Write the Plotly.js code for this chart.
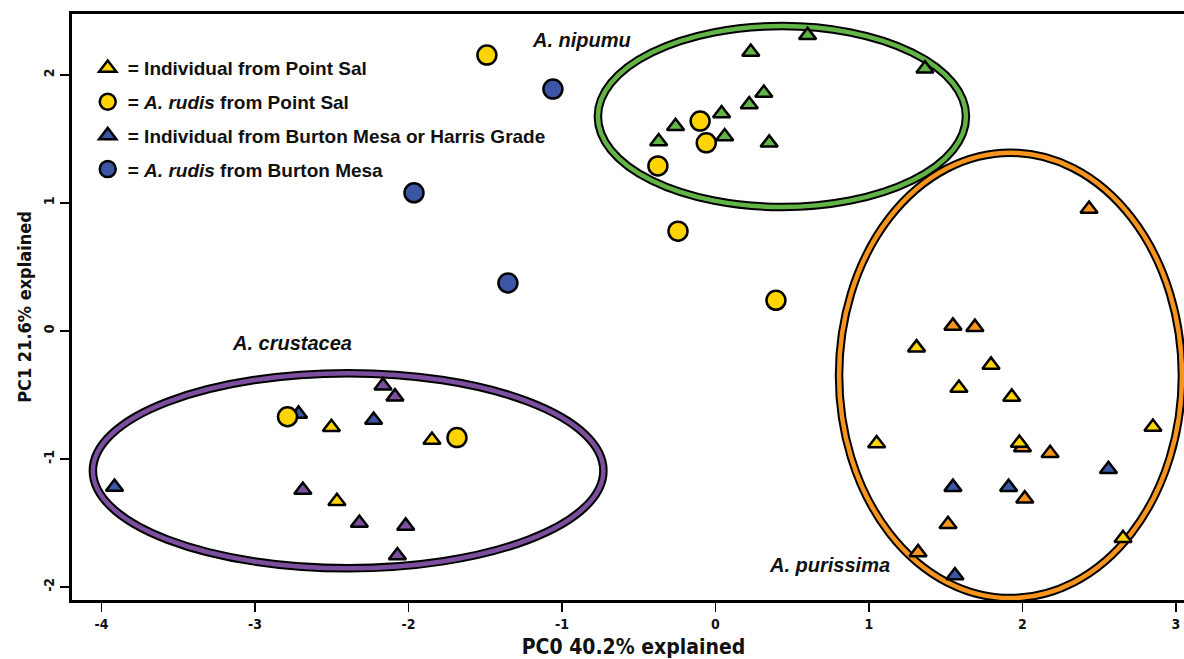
<!DOCTYPE html>
<html>
<head>
<meta charset="utf-8">
<script src="https://cdn.plot.ly/plotly-3.0.1.min.js"></script>
<style>
html,body{margin:0;padding:0;overflow:hidden;background:#fff;}
#chart{width:1220px;height:659px;}
</style>
</head>
<body>
<div id="chart"></div>
<script>
// ---- data (PC0, PC1) ----
const yellowTriX = [-2.502, -1.847, -2.466, 1.31, 1.795, 1.586, 1.93, 2.85, 1.05, 1.98, 2.655];
const yellowTriY = [-0.752, -0.852, -1.33, -0.13, -0.265, -0.445, -0.515, -0.75, -0.88, -0.875, -1.62];

const yellowCircX = [-1.489, -0.10, -0.06, -0.375, -0.244, 0.394, -2.788, -1.684];
const yellowCircY = [2.156, 1.64, 1.47, 1.29, 0.78, 0.24, -0.67, -0.833];

const blueTriX = [-2.716, -2.227, -3.915, 2.56, 1.547, 1.91, 1.56];
const blueTriY = [-0.648, -0.695, -1.219, -1.08, -1.22, -1.22, -1.91];

const blueCircX = [-1.059, -1.964, -1.352];
const blueCircY = [1.89, 1.08, 0.375];

const greenTriX = [0.60, 0.23, 1.365, 0.315, 0.22, 0.04, -0.26, 0.06, -0.37, 0.35];
const greenTriY = [2.31, 2.18, 2.05, 1.86, 1.77, 1.70, 1.60, 1.52, 1.48, 1.47];

const orangeTriX = [2.434, 1.547, 1.69, 2.00, 2.18, 2.015, 1.515, 1.32];
const orangeTriY = [0.953, 0.04, 0.03, -0.91, -0.955, -1.31, -1.51, -1.73];

const purpleTriX = [-2.166, -2.088, -2.688, -2.32, -2.018, -2.072];
const purpleTriY = [-0.427, -0.513, -1.242, -1.50, -1.523, -1.755];

// ellipses: species, centre x, centre y, half-width, half-height
const ellipseNames = ["A. nipumu", "A. purissima", "A. crustacea"];
const ellipseCx = [0.433, 1.922, -2.393];
const ellipseCy = [1.676, -0.347, -1.092];
const ellipseRx = [1.199, 1.117, 1.663];
const ellipseRy = [0.707, 1.74, 0.762];
const ellipseColors = ["#62B446", "#F7941D", "#7B4E9E"];

// species label positions (data coords)
const labelX = [-0.87, 0.74, -2.76];
const labelY = [2.27, -1.83, -0.094];

const xTicks = [-4, -3, -2, -1, 0, 1, 2, 3];
const yTicks = [-2, -1, 0, 1, 2];

// ---- styling ----
const YELLOW = "#FFD400", BLUE = "#3A56A5";
const TRI = 15, CIRC = 19, LW = 2.5;

function tri(x, y, color, name, show, rank) {
  return {x: x, y: y, type: "scatter", mode: "markers", name: name, showlegend: show,
    legendrank: rank, legendgroup: "g" + rank,
    marker: {symbol: "triangle-up", size: TRI, color: color, line: {color: "#000", width: LW}},
    hoverinfo: "x+y"};
}
function circ(x, y, color, name, show, rank) {
  return {x: x, y: y, type: "scatter", mode: "markers", name: name, showlegend: show,
    legendrank: rank, legendgroup: "g" + rank,
    marker: {symbol: "circle", size: CIRC, color: color, line: {color: "#000", width: LW}},
    hoverinfo: "x+y"};
}

const traces = [
  tri(greenTriX, greenTriY, "#62B446", "A. nipumu", false, 10),
  tri(orangeTriX, orangeTriY, "#F7941D", "A. purissima", false, 11),
  tri(purpleTriX, purpleTriY, "#7B4E9E", "A. crustacea", false, 12),
  tri(yellowTriX, yellowTriY, YELLOW, "= Individual from Point Sal", true, 1),
  tri(blueTriX, blueTriY, BLUE, "= Individual from Burton Mesa or Harris Grade", true, 3),
  circ(yellowCircX, yellowCircY, YELLOW, "= <i>A. rudis</i> from Point Sal", true, 2),
  circ(blueCircX, blueCircY, BLUE, "= <i>A. rudis</i> from Burton Mesa", true, 4)
];

const shapes = [];
for (let i = 0; i < ellipseNames.length; i++) {
  const base = {type: "circle", xref: "x", yref: "y", layer: "below",
    x0: ellipseCx[i] - ellipseRx[i], x1: ellipseCx[i] + ellipseRx[i],
    y0: ellipseCy[i] - ellipseRy[i], y1: ellipseCy[i] + ellipseRy[i]};
  shapes.push(Object.assign({}, base, {line: {color: "#000", width: 8.5}}));
  shapes.push(Object.assign({}, base, {line: {color: ellipseColors[i], width: 4.5}}));
}

const annotations = ellipseNames.map((n, i) => ({
  x: labelX[i], y: labelY[i], xref: "x", yref: "y", showarrow: false,
  text: "<b><i>" + n + "</i></b>",
  font: {family: "Liberation Sans, Arial, sans-serif", size: 20, color: "#111"}
}));

const narrow = "Liberation Sans Narrow, DejaVu Sans Condensed, Arial Narrow, sans-serif";

const layout = {
  width: 1220, height: 659,
  margin: {l: 72, r: 25, t: 14, b: 59},
  paper_bgcolor: "#fff", plot_bgcolor: "#fff",
  showlegend: true,
  legend: {x: 0.014, y: 0.94, xanchor: "left", yanchor: "top",
    bgcolor: "rgba(0,0,0,0)", borderwidth: 0, itemsizing: "trace",
    tracegroupgap: 6, itemwidth: 30,
    font: {family: "Liberation Sans, Arial, sans-serif", size: 19, color: "#111", weight: "bold"}},
  xaxis: {
    range: [-4.192, 3.124], tickvals: xTicks, ticktext: xTicks.map(String),
    showgrid: false, zeroline: false, showline: true, linecolor: "#000", linewidth: 3, mirror: true,
    ticks: "outside", ticklen: 9, tickwidth: 1.5, tickcolor: "#000",
    tickfont: {family: narrow, size: 14, color: "#111", weight: "bold"},
    title: {text: "<b>PC0 40.2% explained</b>", standoff: 12,
      font: {family: narrow, size: 21, color: "#111"}}
  },
  yaxis: {
    range: [-2.102, 2.477], tickvals: yTicks, ticktext: yTicks.map(String), tickangle: -90,
    showgrid: false, zeroline: false, showline: true, linecolor: "#000", linewidth: 3, mirror: true,
    ticks: "outside", ticklen: 9, tickwidth: 1.5, tickcolor: "#000",
    tickfont: {family: narrow, size: 14, color: "#111", weight: "bold"},
    title: {text: "<b>PC1 21.6% explained</b>", standoff: 6,
      font: {family: narrow, size: 18, color: "#111"}}
  },
  shapes: shapes,
  annotations: annotations
};

Plotly.newPlot("chart", traces, layout, {displayModeBar: false, staticPlot: true});
</script>
</body>
</html>
